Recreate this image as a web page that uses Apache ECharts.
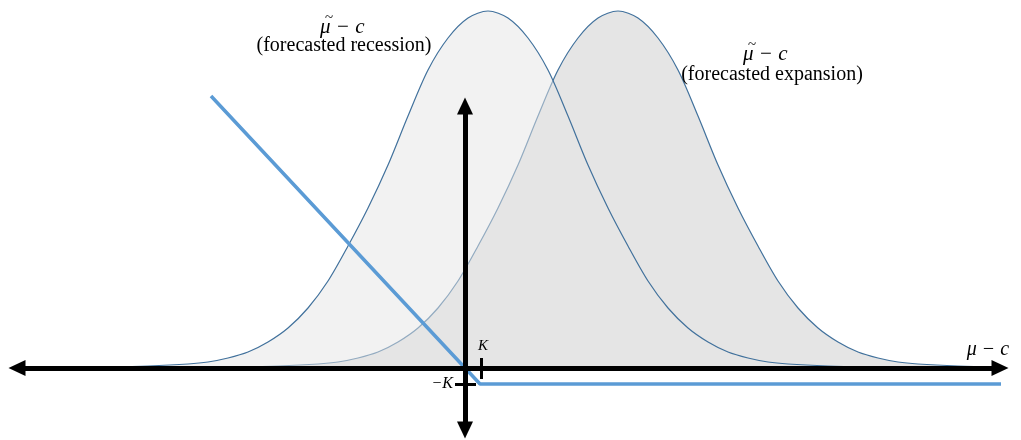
<!DOCTYPE html>
<html>
<head>
<meta charset="utf-8">
<script src="https://cdn.jsdelivr.net/npm/echarts@6/dist/echarts.min.js"></script>
<style>
  html, body { margin: 0; padding: 0; background: #fff; }
  #chart { width: 1021px; height: 440px; }
</style>
</head>
<body>
<div id="chart"></div>
<script>
// coordinates: origin where the two black axes cross, 1 unit = 1 px
const recessionX = [-357, -317, -277, -257, -237, -217, -197, -177, -157, -137, -117, -97, -77, -57, -37, -17, 3, 23, 43, 63, 83, 103, 123, 143, 163, 183, 203, 223, 243, 263, 283, 303, 323, 363, 403]
const recessionY = [1, 2, 4, 6, 10, 16, 26, 40, 60, 87, 122, 160, 203, 252, 298, 330, 350, 357, 350, 330, 298, 252, 203, 160, 122, 87, 60, 40, 26, 16, 10, 6, 4, 2, 1]

const expansionX = [-227, -187, -147, -127, -107, -87, -67, -47, -27, -7, 13, 33, 53, 73, 93, 113, 133, 153, 173, 193, 213, 233, 253, 273, 293, 313, 333, 353, 373, 393, 413, 433, 453, 493, 533]
const expansionY = [1, 2, 4, 6, 10, 16, 26, 40, 60, 87, 122, 160, 203, 252, 298, 330, 350, 357, 350, 330, 298, 252, 203, 160, 122, 87, 60, 40, 26, 16, 10, 6, 4, 2, 1]

// payoff: falls with slope -1 until K, then flat at -K
const payoffX = [-254, 15, 536]
const payoffY = [272, -16, -16]

const K = 16
const horizAxisEnds = [-448, 535]
const vertAxisEnds = [262, -62]

const toPairs = (xs, ys) => xs.map((x, i) => [x, ys[i]])

const chart = echarts.init(document.getElementById('chart'))
const serif = '"Liberation Serif", "DejaVu Serif", serif'

function txt(text, x, y, font, align) {
  return {
    type: 'text', x: x, y: y, z: 100,
    style: { text: text, font: font, fill: '#000', align: align || 'center', verticalAlign: 'middle' },
  }
}

chart.setOption({
  animation: false,
  grid: { left: 0, right: 0, top: 0, bottom: 0 },
  xAxis: { type: 'value', min: -465, max: 556, show: false },
  yAxis: { type: 'value', min: -72, max: 368, show: false },
  series: [
    {
      name: 'expansion', type: 'line', smooth: 0.3, symbol: 'none', z: 1,
      data: toPairs(expansionX, expansionY),
      lineStyle: { color: '#41719c', width: 1.2 },
      areaStyle: { color: '#e5e5e5', opacity: 1 },
    },
    {
      name: 'recession', type: 'line', smooth: 0.3, symbol: 'none', z: 2,
      data: toPairs(recessionX, recessionY),
      lineStyle: { color: '#41719c', width: 1.2 },
      areaStyle: { color: 'rgba(229,229,229,0.5)', opacity: 1 },
    },
    {
      name: 'axes', type: 'line', data: [], z: 3,
      markLine: {
        silent: true, animation: false,
        symbol: ['triangle', 'triangle'], symbolSize: [16, 17],
        label: { show: false },
        lineStyle: { color: '#000', width: 5, type: 'solid' },
        data: [
          [{ coord: [horizAxisEnds[0], 0] }, { coord: [horizAxisEnds[1], 0] }],
          [{ coord: [0, vertAxisEnds[0]] }, { coord: [0, vertAxisEnds[1]] }],
          [{ coord: [K, 10], symbol: 'none', lineStyle: { width: 3 } }, { coord: [K, -11], symbol: 'none' }],
          [{ coord: [-10, -K], symbol: 'none', lineStyle: { width: 3 } }, { coord: [11, -K], symbol: 'none' }],
        ],
      },
    },
    {
      name: 'payoff', type: 'line', symbol: 'none', z: 4,
      data: toPairs(payoffX, payoffY),
      lineStyle: { color: '#5b9bd5', width: 3.5 },
    },
  ],
  graphic: [
    txt('μ − c', 320, 27, 'italic 21px ' + serif, 'left'),
    txt('~', 329, 18, '15px ' + serif),
    txt('(forecasted recession)', 344, 46, '20px ' + serif),
    txt('μ − c', 743, 54, 'italic 21px ' + serif, 'left'),
    txt('~', 752, 45, '15px ' + serif),
    txt('(forecasted expansion)', 772, 75, '20px ' + serif),
    txt('μ − c', 988, 350, 'italic 20px ' + serif),
    txt('K', 483, 346, 'italic 15px ' + serif),
    txt('−K', 453, 384, 'italic 16px ' + serif, 'right'),
  ],
})
</script>
</body>
</html>
